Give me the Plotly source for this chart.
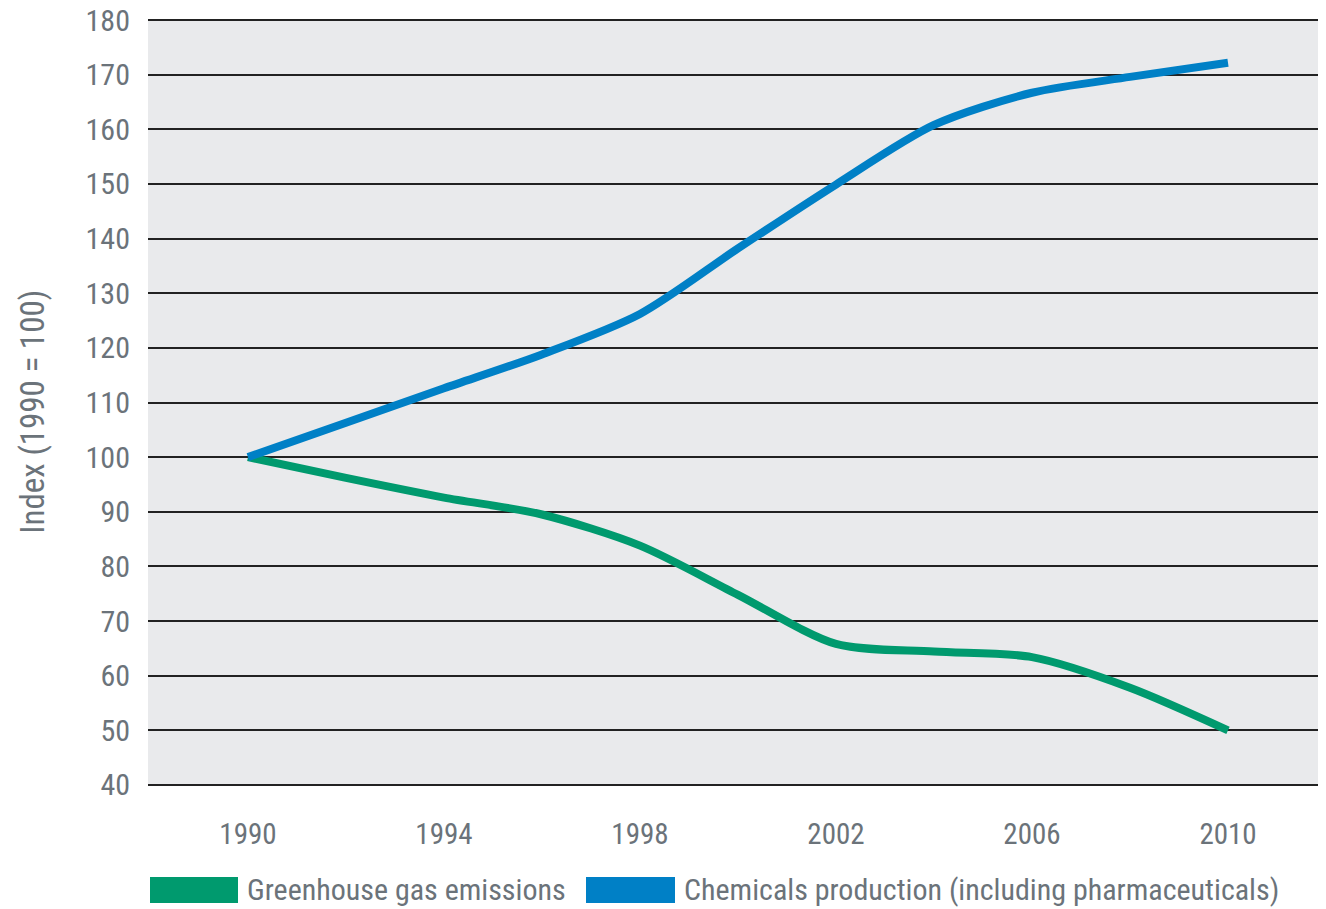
import plotly.graph_objects as go

years = [1990, 1992, 1994, 1996, 1998, 2000, 2002, 2004, 2006, 2008, 2010]
greenhouse = [100, 96.2, 92.6, 89.5, 83.8, 74.8, 65.8, 64.4, 63.4, 57.8, 50]
chemicals = [100, 106.3, 112.6, 118.8, 126.2, 138.2, 149.9, 160.8, 166.7, 169.6, 172.2]

x_ticks = [1990, 1994, 1998, 2002, 2006, 2010]
y_ticks = list(range(40, 181, 10))

series_names = ["Greenhouse gas emissions", "Chemicals production (including pharmaceuticals)"]
y_title = "Index (1990 = 100)"
green = "#009a6e"
blue = "#0080c6"
txt = "#6b737a"
font_fam = "Liberation Sans Narrow, Roboto Condensed, Arial Narrow, sans-serif"

# page body has an 8px margin; work in page pixels and subtract it
OFF = 8
FIG_W, FIG_H = 1326 - OFF, 909 - OFF
PL, PR, PT, PB = 148 - OFF, 1326 - OFF, 19.4 - OFF, 786.1 - OFF

fig = go.Figure()
fig.add_trace(go.Scatter(x=years, y=greenhouse, mode="lines", name=series_names[0],
                         line=dict(color=green, width=8, shape="spline", smoothing=0.8)))
fig.add_trace(go.Scatter(x=years, y=chemicals, mode="lines", name=series_names[1],
                         line=dict(color=blue, width=8, shape="spline", smoothing=0.8)))

fig.update_layout(
    width=FIG_W, height=FIG_H,
    margin=dict(l=PL, r=FIG_W - PR, t=PT, b=FIG_H - PB, pad=0, autoexpand=False),
    paper_bgcolor="white",
    plot_bgcolor="#e9eaec",
    showlegend=False,
    font=dict(family=font_fam, color=txt, size=29),
)
fig.update_xaxes(range=[1987.96, 2012.0], tickvals=x_ticks, showgrid=False, zeroline=False,
                 showline=False, ticks="", ticklabelstandoff=28, automargin=False,
                 tickfont=dict(family=font_fam, size=29, color=txt))
fig.update_yaxes(range=[39.8, 180.2], tickvals=y_ticks, showgrid=True, gridcolor="#222222",
                 gridwidth=2, zeroline=False, showline=False, ticks="", ticklabelstandoff=17,
                 ticklabeloverflow="allow", automargin=False,
                 tickfont=dict(family=font_fam, size=30, color=txt))

# positions in page pixels -> paper coords
def px_x(p):
    return (p - OFF - PL) / (PR - PL)
def px_y(p):
    return (PB - (p - OFF)) / (PB - PT)

fig.add_annotation(xref="paper", yref="paper", x=px_x(33), y=px_y(412),
                   text=y_title, showarrow=False, textangle=-90,
                   xanchor="center", yanchor="middle",
                   font=dict(family=font_fam, size=33, color=txt))

# custom legend (rectangular swatches)
fig.add_shape(type="rect", xref="paper", yref="paper",
              x0=px_x(150), x1=px_x(238), y0=px_y(903), y1=px_y(877),
              fillcolor=green, line=dict(width=0))
fig.add_annotation(xref="paper", yref="paper", x=px_x(245), y=px_y(890),
                   text=series_names[0], showarrow=False, xanchor="left", yanchor="middle",
                   font=dict(family=font_fam, size=30, color=txt))
fig.add_shape(type="rect", xref="paper", yref="paper",
              x0=px_x(586), x1=px_x(675), y0=px_y(903), y1=px_y(877),
              fillcolor=blue, line=dict(width=0))
fig.add_annotation(xref="paper", yref="paper", x=px_x(682), y=px_y(890),
                   text=series_names[1], showarrow=False, xanchor="left", yanchor="middle",
                   font=dict(family=font_fam, size=30, color=txt))

fig.write_html("out.html")
